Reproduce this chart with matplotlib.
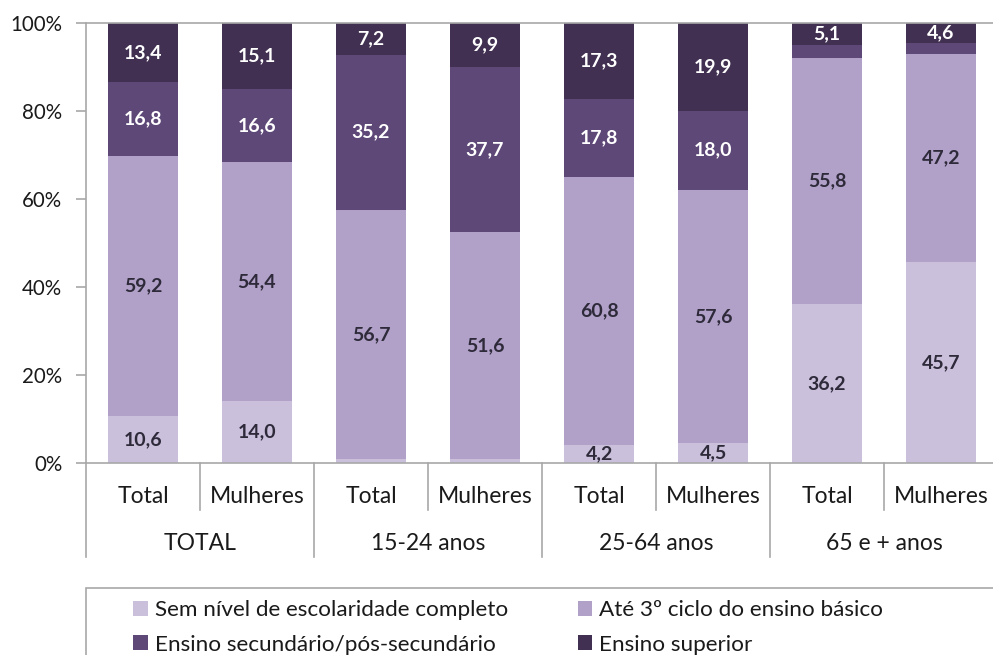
import numpy as np
import matplotlib
matplotlib.use('Agg')
import matplotlib.pyplot as plt
from matplotlib.patches import Rectangle

plt.rcParams['font.family'] = ['Lato', 'DejaVu Sans']

# data (%)
bars = ['Total', 'Mulheres'] * 4
groups = ['TOTAL', '15-24 anos', '25-64 anos', '65 e + anos']
sem_nivel = [10.6, 14.0, 0.9, 0.8, 4.2, 4.5, 36.2, 45.7]
basico = [59.2, 54.4, 56.7, 51.6, 60.8, 57.6, 55.8, 47.2]
secundario = [16.8, 16.6, 35.2, 37.7, 17.8, 18.0, 2.9, 2.5]
superior = [13.4, 15.1, 7.2, 9.9, 17.3, 19.9, 5.1, 4.6]
series_names = ['Sem nível de escolaridade completo', 'Até 3º ciclo do ensino básico',
                'Ensino secundário/pós-secundário', 'Ensino superior']
colors = ['#CAC0DC', '#B1A1C9', '#5E4878', '#413051']
text_cols = ['#2E2A3A', '#2E2A3A', 'white', 'white']

fig = plt.figure(figsize=(9.93, 6.55), dpi=100)
ax = fig.add_axes([86/993, 192/655, 912/993, 440/655])

x = np.arange(len(bars))
bottom = np.zeros(len(bars))
handles = []
for vals, col, tc, name in zip([sem_nivel, basico, secundario, superior], colors, text_cols, series_names):
    vals = np.array(vals)
    b = ax.bar(x, vals, 0.62, bottom=bottom, color=col, label=name)
    handles.append(b)
    for xi, v, bt in zip(x, vals, bottom):
        if v >= 4:
            ax.text(xi, bt + v/2, ('%.1f' % v).replace('.', ','), ha='center', va='center',
                    fontsize=14, fontweight='bold', color=tc)
    bottom += vals

ax.set_xlim(-0.5, 7.5)
ax.set_ylim(0, 100)
ax.set_yticks([0, 20, 40, 60, 80, 100])
ax.set_yticklabels(['0%', '20%', '40%', '60%', '80%', '100%'], fontsize=14.8, color='#1A1A1A')
ax.set_xticks([])
for s in ['left', 'bottom', 'top']:
    ax.spines[s].set_color('#A8A8A8')
    ax.spines[s].set_linewidth(1.2)
ax.spines['right'].set_visible(False)
ax.tick_params(axis='y', length=7, color='#A8A8A8', width=1.2, pad=10)

# multi-level category axis
tr = ax.get_xaxis_transform()
for xi, lab in zip(x, bars):
    ax.text(xi, -0.077, lab, transform=tr, ha='center', va='center', fontsize=16.5, color='#1A1A1A')
for gi, g in enumerate(groups):
    ax.text(2*gi + 0.5, -0.182, g, transform=tr, ha='center', va='center', fontsize=16.5, color='#1A1A1A')
    ax.plot([2*gi + 0.5]*2, [0, -0.107], transform=tr, color='#A8A8A8', lw=1.2, clip_on=False)
    ax.plot([2*gi - 0.5]*2, [0, -0.214], transform=tr, color='#A8A8A8', lw=1.2, clip_on=False)

# legend box
fig.patches.append(Rectangle((86/993, -0.1), 1.0, (655-588)/655 + 0.1, transform=fig.transFigure,
                             fill=False, edgecolor='#A8A8A8', lw=1.2))
order = [0, 2, 1, 3]
fig.legend([handles[i] for i in order], [series_names[i] for i in order], ncol=2,
           loc='upper left', bbox_to_anchor=(122/993, 1 - 589/655), frameon=False,
           fontsize=16.2, handlelength=0.65, handleheight=0.65, handletextpad=0.3,
           columnspacing=3.1, labelspacing=0.65, borderpad=0, labelcolor='#1A1A1A')

fig.savefig('out.png', dpi=100)
